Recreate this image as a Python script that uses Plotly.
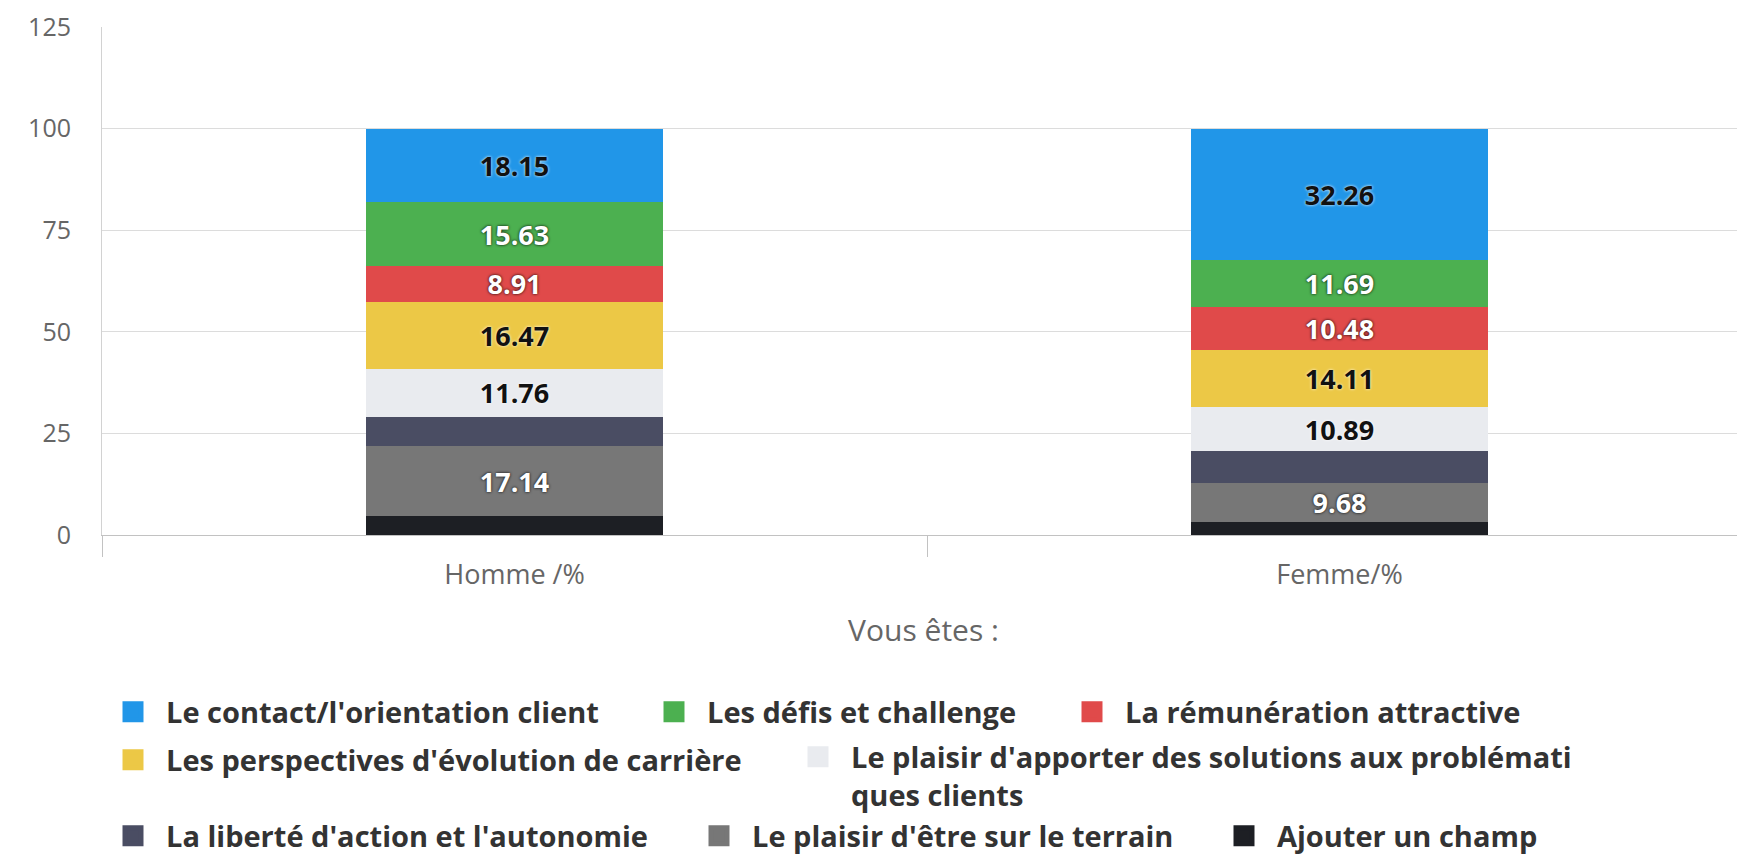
import plotly.graph_objects as go

# Categories on the x axis
CATEGORIES = ["Homme /%", "Femme/%"]

# Series, listed from bottom of the stack to the top
SERIES_NAMES = [
    "Ajouter un champ",
    "Le plaisir d'être sur le terrain",
    "La liberté d'action et l'autonomie",
    "Le plaisir d'apporter des solutions aux problémati<br>ques clients",
    "Les perspectives d'évolution de carrière",
    "La rémunération attractive",
    "Les défis et challenge",
    "Le contact/l'orientation client",
]
AJOUTER = [4.71, 3.23]
TERRAIN = [17.14, 9.68]
LIBERTE = [7.23, 7.66]
SOLUTIONS = [11.76, 10.89]
PERSPECTIVES = [16.47, 14.11]
REMUNERATION = [8.91, 10.48]
DEFIS = [15.63, 11.69]
CONTACT = [18.15, 32.26]
SERIES_VALUES = [AJOUTER, TERRAIN, LIBERTE, SOLUTIONS, PERSPECTIVES,
                 REMUNERATION, DEFIS, CONTACT]

COLORS = ["#1d1f24", "#777777", "#4a4d63", "#e9ebef",
          "#ecc846", "#e04a4a", "#4cb050", "#2196e8"]
LABEL_DARK = [False, False, False, True, True, False, False, True]

# Legend placement: (text start px, text centre px) on the page
LEGEND_SPOTS = [
    (1277, 836), (752, 836), (166, 836), (851, 776),
    (166, 760), (1125, 712), (707, 712), (166, 712),
]

# the page body adds an 8px offset around the figure
PAGE_OFFSET = 8
W, H = 1745 - PAGE_OFFSET, 856 - PAGE_OFFSET
M = dict(l=94, r=0, t=19, b=321, autoexpand=False)
PW = W - M["l"] - M["r"]
PH = H - M["t"] - M["b"]
ITEMWIDTH = 56


def paper_x(px):
    return (px - PAGE_OFFSET - M["l"]) / PW


def paper_y(py):
    return (H - M["b"] - (py - PAGE_OFFSET)) / PH


fig = go.Figure()
layout_legends = {}
for i, (name, vals, color, dark) in enumerate(
        zip(SERIES_NAMES, SERIES_VALUES, COLORS, LABEL_DARK)):
    key = "legend" if i == 0 else f"legend{i + 1}"
    labels = [f"{v:.2f}" if v >= 8 else "" for v in vals]
    fig.add_trace(go.Bar(
        x=CATEGORIES, y=vals, name=name, marker_color=color,
        marker_line_width=0, width=0.36,
        text=labels, textposition="inside", insidetextanchor="middle",
        textangle=0,
        textfont=dict(
            family="Open Sans", size=27, weight="bold",
            color="#111111" if dark else "#ffffff",
            shadow="0px 0px 3px #ffffff" if dark else "0px 0px 3px #000000",
        ),
        showlegend=False, hoverinfo="x+y+name",
    ))
    # legend-only entry with a larger square swatch
    fig.add_trace(go.Scatter(
        x=[None], y=[None], mode="markers", name=name, legend=key,
        marker=dict(symbol="square", size=16, color=color,
                    line=dict(color=color, width=5)),
        showlegend=True,
    ))
    tx, ty = LEGEND_SPOTS[i]
    layout_legends[key] = dict(
        x=paper_x(tx - ITEMWIDTH - 10), y=paper_y(ty),
        xanchor="left", yanchor="middle", orientation="v",
        itemwidth=ITEMWIDTH, valign="top", bgcolor="rgba(0,0,0,0)",
        font=dict(family="Open Sans", size=29, weight="bold", color="#333333"),
    )

fig.update_layout(
    width=W, height=H, margin=M, barmode="stack",
    plot_bgcolor="white", paper_bgcolor="white",
    font=dict(family="Open Sans", color="#666666"),
    uniformtext=dict(mode="show", minsize=27),
    **layout_legends,
)
fig.update_xaxes(
    type="category", range=[-0.5, 1.4915],
    showgrid=False, showline=True, linecolor="#c2c2c2", linewidth=1,
    ticks="outside", tickson="boundaries", ticklen=21, tickcolor="#c2c2c2",
    tickfont=dict(size=27, color="#666666"), ticklabelstandoff=16,
    title=dict(text="Vous êtes :", font=dict(size=30, color="#666666"),
               standoff=28),
)
fig.update_yaxes(
    range=[0, 125], dtick=25, showgrid=True, gridcolor="#dcdcdc",
    showline=True, linecolor="#d2d2d2", zeroline=False, ticks="",
    ticklabelstandoff=25, tickfont=dict(size=25, color="#666666"),
)

fig.write_html("out.html")
